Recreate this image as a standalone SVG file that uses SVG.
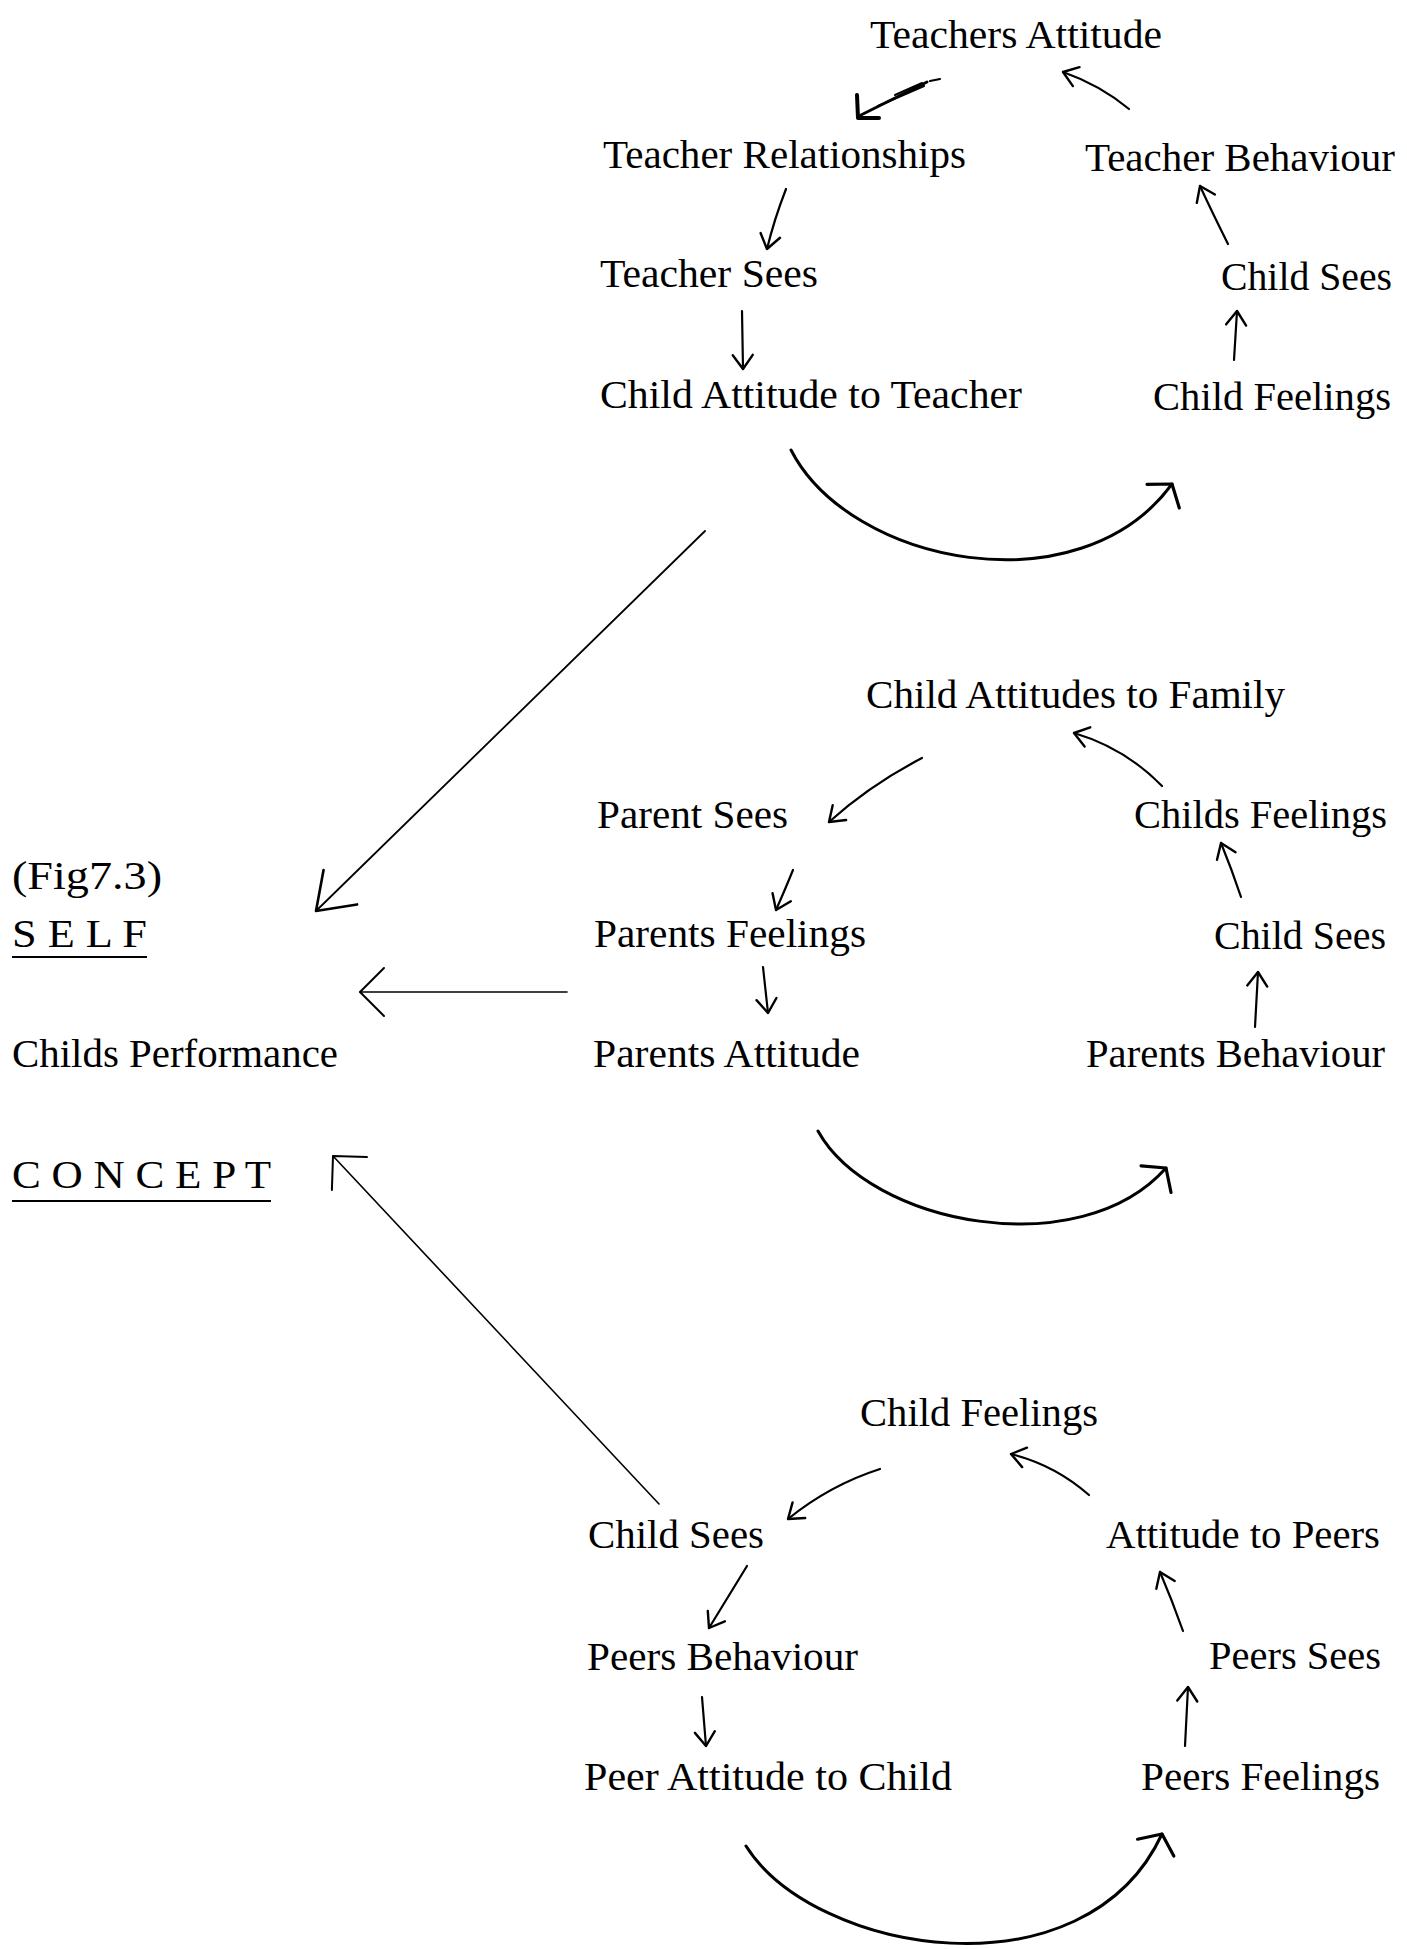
<svg xmlns="http://www.w3.org/2000/svg" width="1407" height="1949" viewBox="0 0 1407 1949">
  <style>
    .t { font-family: "Liberation Serif", "Times New Roman", serif; font-size: 40px; fill: #000; }
    .ln { fill: none; stroke: #000; stroke-linecap: round; stroke-linejoin: round; }
    .sm { stroke-width: 2.2; marker-end: url(#hs); }
    .cv { stroke-width: 3; marker-end: url(#hm); }
    .lg { stroke-width: 1.6; marker-end: url(#hl); }
  </style>
  <defs>
    <!-- small open head for the short loop arrows -->
    <marker id="hs" markerUnits="userSpaceOnUse" markerWidth="40" markerHeight="40" refX="0" refY="0" orient="auto" overflow="visible">
      <path d="M -14 -10 L 0 0 L -14 10" fill="none" stroke="#000" stroke-width="2.4" stroke-linecap="round" stroke-linejoin="round"/>
    </marker>
    <!-- wide head for the curved loop-closing arrows -->
    <marker id="hm" markerUnits="userSpaceOnUse" markerWidth="60" markerHeight="60" refX="0" refY="0" orient="auto" overflow="visible">
      <path d="M -15 -20 L 0 0 L -15 20" fill="none" stroke="#000" stroke-width="3.2" stroke-linecap="round" stroke-linejoin="round"/>
    </marker>
    <!-- large heads for the arrows into the self concept -->
    <marker id="hl" markerUnits="userSpaceOnUse" markerWidth="80" markerHeight="80" refX="0" refY="0" orient="auto" overflow="visible">
      <path d="M -24 -24 L 0 0 L -24 24" fill="none" stroke="#000" stroke-width="2" stroke-linecap="round" stroke-linejoin="round"/>
    </marker>
    <marker id="hx" markerUnits="userSpaceOnUse" markerWidth="90" markerHeight="90" refX="0" refY="0" orient="auto" overflow="visible">
      <path d="M -34 -24 L 0 0 L -34 24" fill="none" stroke="#000" stroke-width="2.6" stroke-linecap="round" stroke-linejoin="round"/>
    </marker>
  </defs>

  <rect width="1407" height="1949" fill="#fff"/>

  <!-- Teacher loop -->
  <g id="n-teachers-attitude"><text class="t" x="870" y="48" textLength="292" lengthAdjust="spacingAndGlyphs">Teachers Attitude</text></g>
  <g id="n-teacher-relationships"><text class="t" x="603" y="168" textLength="363" lengthAdjust="spacingAndGlyphs">Teacher Relationships</text></g>
  <g id="n-teacher-behaviour"><text class="t" x="1085" y="171" textLength="310" lengthAdjust="spacingAndGlyphs">Teacher Behaviour</text></g>
  <g id="n-teacher-sees"><text class="t" x="600" y="287" textLength="218" lengthAdjust="spacingAndGlyphs">Teacher Sees</text></g>
  <g id="n-child-sees-1"><text class="t" x="1221" y="290" textLength="171" lengthAdjust="spacingAndGlyphs">Child Sees</text></g>
  <g id="n-child-attitude-teacher"><text class="t" x="600" y="408" textLength="422" lengthAdjust="spacingAndGlyphs">Child Attitude to Teacher</text></g>
  <g id="n-child-feelings-1"><text class="t" x="1153" y="410" textLength="238" lengthAdjust="spacingAndGlyphs">Child Feelings</text></g>

  <!-- Family loop -->
  <g id="n-child-attitudes-family"><text class="t" x="866" y="708" textLength="419" lengthAdjust="spacingAndGlyphs">Child Attitudes to Family</text></g>
  <g id="n-parent-sees"><text class="t" x="597" y="828" textLength="191" lengthAdjust="spacingAndGlyphs">Parent Sees</text></g>
  <g id="n-childs-feelings"><text class="t" x="1134" y="828" textLength="253" lengthAdjust="spacingAndGlyphs">Childs Feelings</text></g>
  <g id="n-parents-feelings"><text class="t" x="594" y="947" textLength="272" lengthAdjust="spacingAndGlyphs">Parents Feelings</text></g>
  <g id="n-child-sees-2"><text class="t" x="1214" y="949" textLength="172" lengthAdjust="spacingAndGlyphs">Child Sees</text></g>
  <g id="n-parents-attitude"><text class="t" x="593" y="1067" textLength="267" lengthAdjust="spacingAndGlyphs">Parents Attitude</text></g>
  <g id="n-parents-behaviour"><text class="t" x="1086" y="1067" textLength="299" lengthAdjust="spacingAndGlyphs">Parents Behaviour</text></g>

  <!-- Self concept -->
  <g id="n-self-concept">
    <text class="t" x="12" y="889" textLength="150" lengthAdjust="spacingAndGlyphs">(Fig7.3)</text>
    <text class="t" x="12" y="947" textLength="135" lengthAdjust="spacingAndGlyphs">S E L F</text>
    <line x1="12" y1="957" x2="147" y2="957" stroke="#000" stroke-width="2"/>
    <text class="t" x="12" y="1067" textLength="326" lengthAdjust="spacingAndGlyphs">Childs Performance</text>
    <text class="t" x="12" y="1188" textLength="259" lengthAdjust="spacingAndGlyphs">C O N C E P T</text>
    <line x1="12" y1="1201" x2="271" y2="1201" stroke="#000" stroke-width="2"/>
  </g>

  <!-- Peer loop -->
  <g id="n-child-feelings-3"><text class="t" x="860" y="1426" textLength="238" lengthAdjust="spacingAndGlyphs">Child Feelings</text></g>
  <g id="n-child-sees-3"><text class="t" x="588" y="1548" textLength="176" lengthAdjust="spacingAndGlyphs">Child Sees</text></g>
  <g id="n-attitude-peers"><text class="t" x="1106" y="1548" textLength="274" lengthAdjust="spacingAndGlyphs">Attitude to Peers</text></g>
  <g id="n-peers-behaviour"><text class="t" x="587" y="1670" textLength="271" lengthAdjust="spacingAndGlyphs">Peers Behaviour</text></g>
  <g id="n-peers-sees"><text class="t" x="1209" y="1669" textLength="172" lengthAdjust="spacingAndGlyphs">Peers Sees</text></g>
  <g id="n-peer-attitude-child"><text class="t" x="584" y="1790" textLength="368" lengthAdjust="spacingAndGlyphs">Peer Attitude to Child</text></g>
  <g id="n-peers-feelings"><text class="t" x="1141" y="1790" textLength="239" lengthAdjust="spacingAndGlyphs">Peers Feelings</text></g>

  <!-- Connectors -->
  <g id="connectors">
    <!-- teacher loop: heavy, retraced stroke into Teacher Relationships -->
    <path class="ln" d="M 927 82 L 861 115" stroke-width="3"/>
    <path class="ln" d="M 878 106 L 924 86" stroke-width="2.2"/>
    <path class="ln" d="M 895 95 L 922 83" stroke-width="2"/>
    <path class="ln" d="M 930 81 L 940 79" stroke-width="2.2"/>
    <path class="ln" d="M 857 95 L 858 118 L 879 118" stroke-width="4"/>
    <path class="ln sm" d="M 1129 109 Q 1100 85 1063 72"/>
    <path class="ln sm" d="M 786 189 Q 774 220 767 249"/>
    <path class="ln sm" d="M 1228 244 Q 1212 212 1200 186"/>
    <path class="ln sm" d="M 742 311 L 743 369"/>
    <path class="ln sm" d="M 1234 360 L 1237 311"/>
    <path class="ln cv" d="M 791 450 C 850 565, 1080 610, 1172 484"/>

    <!-- family loop -->
    <path class="ln sm" d="M 922 758 Q 870 785 829 822"/>
    <path class="ln sm" d="M 1162 786 Q 1125 748 1074 733"/>
    <path class="ln sm" d="M 793 870 Q 784 892 776 910"/>
    <path class="ln sm" d="M 1241 897 Q 1232 870 1221 843"/>
    <path class="ln sm" d="M 763 967 L 768 1013"/>
    <path class="ln sm" d="M 1255 1027 L 1258 972"/>
    <path class="ln cv" d="M 818 1131 C 870 1225, 1080 1265, 1166 1168"/>

    <!-- peer loop -->
    <path class="ln sm" d="M 880 1469 Q 830 1485 788 1519"/>
    <path class="ln sm" d="M 1089 1495 Q 1055 1465 1011 1454"/>
    <path class="ln sm" d="M 747 1566 L 709 1628"/>
    <path class="ln sm" d="M 1183 1631 Q 1172 1600 1160 1572"/>
    <path class="ln sm" d="M 702 1697 L 706 1746"/>
    <path class="ln sm" d="M 1185 1746 L 1188 1687"/>
    <path class="ln cv" d="M 746 1846 C 815 1955, 1085 2000, 1162 1834"/>

    <!-- loops feeding the self concept -->
    <path class="ln" d="M 705 531 L 316 911" stroke-width="1.8" marker-end="url(#hx)"/>
    <path class="ln lg" d="M 567 992 L 360 992"/>
    <path class="ln lg" d="M 659 1504 L 333 1156"/>
  </g>
</svg>
